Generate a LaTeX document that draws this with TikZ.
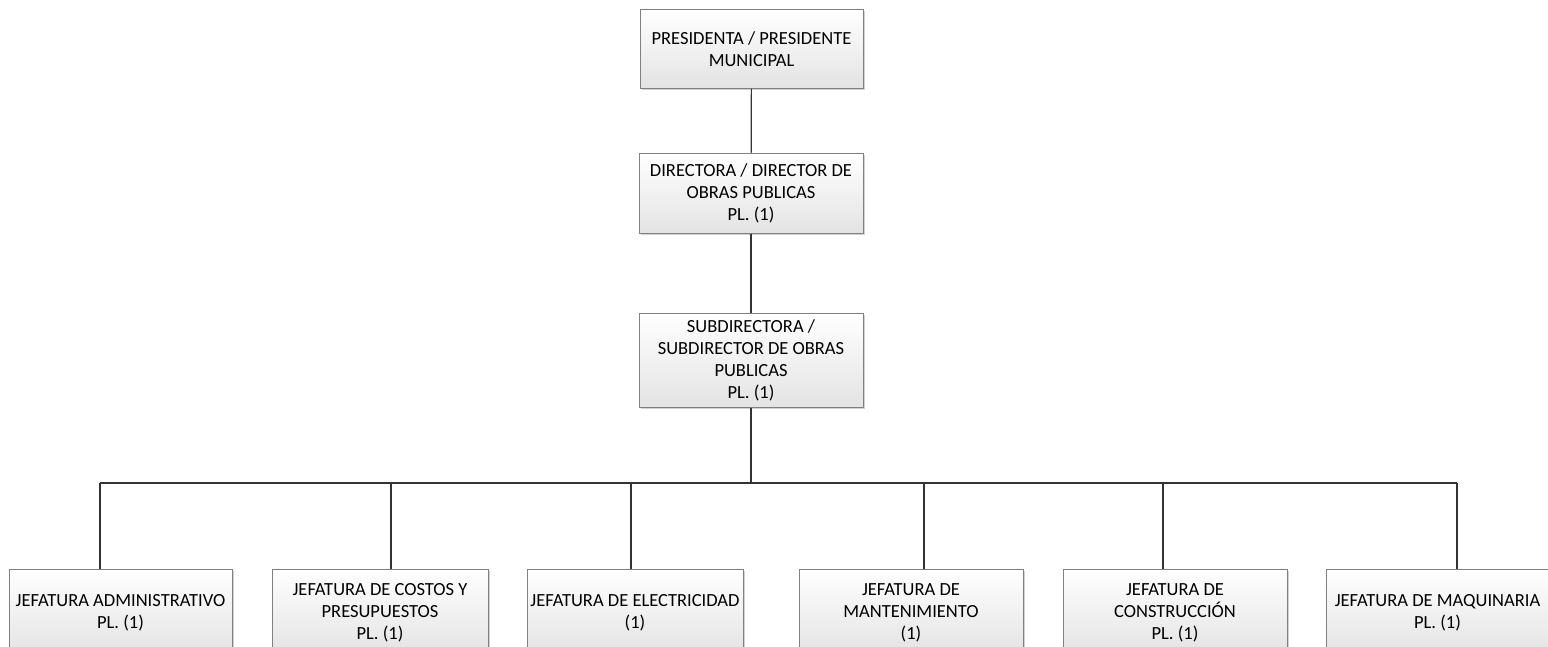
\documentclass[tikz,border=0pt]{standalone}
\usepackage{fontspec}
\setmainfont{Carlito}
\usetikzlibrary{shadows}
\begin{document}
\begin{tikzpicture}[x=1pt,y=-1pt,
  box/.style={draw=black!50,line width=.8pt,top color=white,bottom color=black!11,align=center,inner sep=0pt,anchor=north,minimum height=#1,drop shadow={shadow xshift=1.5pt,shadow yshift=-1.5pt,fill=black!35,opacity=.5},font=\fontsize{18.5}{22}\selectfont},
  link/.style={draw=black!80,line width=1.2pt}]
\useasboundingbox (0,0) rectangle (1548,647);\clip (0,0) rectangle (1548,647);
\node[box=79pt,minimum width=223pt] (pres) at (751.5,9) {PRESIDENTA / PRESIDENTE\\MUNICIPAL};
\node[box=80pt,minimum width=224pt] (dir) at (751,153) {DIRECTORA / DIRECTOR DE\\OBRAS PUBLICAS\\PL. (1)};
\node[box=94pt,minimum width=224pt] (sub) at (751,313) {SUBDIRECTORA /\\SUBDIRECTOR DE OBRAS\\PUBLICAS\\PL. (1)};
\foreach \n/\x/\w/\t in {j1/120.5/223/{JEFATURA ADMINISTRATIVO\\PL. (1)},j2/380/216/{JEFATURA DE COSTOS Y\\PRESUPUESTOS\\PL. (1)},j3/635/216/{JEFATURA DE ELECTRICIDAD\\(1)},j4/911/224/{JEFATURA DE\\MANTENIMIENTO\\(1)},j5/1175/224/{JEFATURA DE\\CONSTRUCCIÓN\\PL. (1)},j6/1437.5/222/{JEFATURA DE MAQUINARIA\\PL. (1)}}{\node[box=86pt,minimum width=\w pt] (\n) at (\x,569) {\t};}
\coordinate (bus) at (751,483);
\draw[link] (pres) -- (dir);\draw[link] (dir) -- (sub);\draw[link] (sub) -- (bus);
\draw[link,line width=1.8pt] ([xshift=-20.5pt]j1.north |- bus) -- ([xshift=19.5pt]j6.north |- bus);
\foreach \n/\d in {j1/-20.5,j2/11,j3/-4,j4/13,j5/-12,j6/19.5}{\draw[link] ([xshift=\d pt]\n.north |- bus) -- ([xshift=\d pt]\n.north);}
\end{tikzpicture}
\end{document}
